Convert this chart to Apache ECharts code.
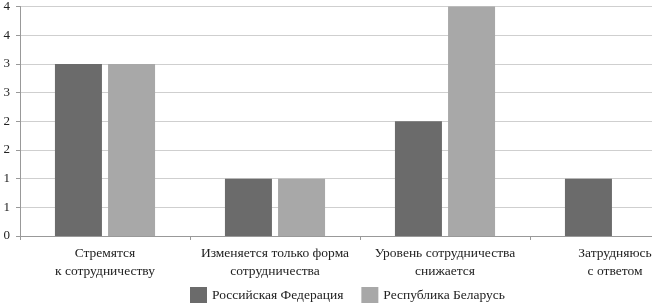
<!DOCTYPE html>
<html><head><meta charset="utf-8">
<script src="https://cdn.jsdelivr.net/npm/echarts@6/dist/echarts.min.js"></script>
<style>html,body{margin:0;padding:0;background:#fff;overflow:hidden}#c{width:700px;height:307px}</style>
</head><body><div id="c"></div>
<script>
const categories = ['Стремятся\nк сотрудничеству', 'Изменяется только форма\nсотрудничества', 'Уровень сотрудничества\nснижается', 'Затрудняюсь\nс ответом'];
const seriesNames = ['Российская Федерация', 'Республика Беларусь'];
const rfValues = [3, 1, 2, 1];
const byValues = [3, 1, 4, 0];
const FONT = '"Liberation Serif", "DejaVu Serif", serif';
const chart = echarts.init(document.getElementById('c'), null, {renderer: 'canvas'});
chart.setOption({
  animation: false,
  textStyle: {fontFamily: FONT},
  grid: {left: 20, top: 5, width: 680, height: 231, containLabel: false},
  legend: {
    data: seriesNames, top: 287, left: 190, padding: 0, itemWidth: 17, itemHeight: 16, itemGap: 18,
    textStyle: {fontFamily: FONT, fontSize: 13.5, color: '#222'}, icon: 'rect'
  },
  xAxis: {
    type: 'category', data: categories,
    axisLine: {lineStyle: {color: '#999'}},
    axisTick: {show: true, length: 4, lineStyle: {color: '#999'}},
    axisLabel: {fontFamily: FONT, fontSize: 13.5, color: '#222', lineHeight: 18, margin: 8, interval: 0}
  },
  yAxis: {
    type: 'value', min: 0, max: 4, interval: 0.5,
    axisLine: {show: true, lineStyle: {color: '#999'}},
    axisTick: {show: true, length: 4, lineStyle: {color: '#999'}},
    splitLine: {lineStyle: {color: '#cfcfcf', width: 1}},
    axisLabel: {fontFamily: FONT, fontSize: 13, color: '#222', margin: 10, formatter: v => String(Math.round(v))}
  },
  series: [
    {name: seriesNames[0], type: 'bar', data: rfValues, barWidth: 47, barGap: '13%',
     itemStyle: {color: '#6b6b6b'}},
    {name: seriesNames[1], type: 'bar', data: byValues, barWidth: 47,
     itemStyle: {color: '#a8a8a8'}}
  ]
});
</script></body></html>
